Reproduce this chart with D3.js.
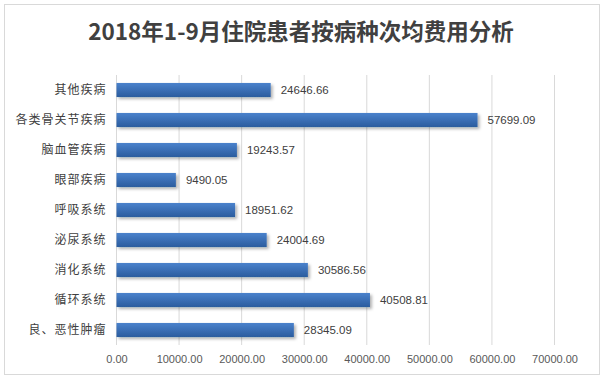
<!DOCTYPE html>
<html><head><meta charset="utf-8">
<script src="https://cdn.jsdelivr.net/npm/d3@7"></script>
<style>body{margin:0;background:#fff;}svg{display:block;}</style>
</head><body>
<svg id="c" width="605" height="378"></svg>
<script>
const title = "2018年1-9月住院患者按病种次均费用分析";
const categories = ["其他疾病","各类骨关节疾病","脑血管疾病","眼部疾病","呼吸系统","泌尿系统","消化系统","循环系统","良、恶性肿瘤"];
const values = [24646.66,57699.09,19243.57,9490.05,18951.62,24004.69,30586.56,40508.81,28345.09];
const xTicks = [0,10000,20000,30000,40000,50000,60000,70000];

const svg = d3.select("#c");
const defs = svg.append("defs");
const g1 = defs.append("linearGradient").attr("id","bar").attr("x1",0).attr("y1",0).attr("x2",0).attr("y2",1);
g1.append("stop").attr("offset","0%").attr("stop-color","#4a82cc");
g1.append("stop").attr("offset","100%").attr("stop-color","#2b5c9e");
const f = defs.append("filter").attr("id","sh").attr("x","-5%").attr("y","-30%").attr("width","115%").attr("height","190%");
f.append("feDropShadow").attr("dx",2).attr("dy",2).attr("stdDeviation",1.5).attr("flood-color","#000").attr("flood-opacity",0.3);

svg.append("rect").attr("x",4.5).attr("y",4.5).attr("width",595).attr("height",370)
  .attr("fill","#fff").attr("stroke","#d9d9d9");

svg.append("text").attr("x",301).attr("y",40).attr("text-anchor","middle")
  .attr("font-family","'Noto Sans CJK SC', sans-serif").attr("font-weight","bold")
  .attr("font-size",22.5).attr("fill","#404040").text(title);

const x = d3.scaleLinear().domain([0,70000]).range([116.5,554.5]);
const y = d3.scaleBand().domain(categories).range([75,345]).paddingInner(0.53).paddingOuter(0.265);

// gridlines
svg.append("g").selectAll("line").data(xTicks).join("line")
  .attr("x1",d=>x(d)).attr("x2",d=>x(d)).attr("y1",75).attr("y2",345)
  .attr("stroke","#d9d9d9").attr("stroke-width",1);

// x axis labels
const xa = svg.append("g").attr("transform","translate(0,345)")
  .call(d3.axisBottom(x).tickValues(xTicks).tickSize(0).tickPadding(10).tickFormat(d=>d3.format(".2f")(d)));
xa.select(".domain").remove();
xa.selectAll("text").attr("font-family","'Liberation Sans', sans-serif").attr("font-size",11).attr("fill","#595959");

// y axis labels
const ya = svg.append("g").attr("transform","translate(116.5,0)")
  .call(d3.axisLeft(y).tickSize(0).tickPadding(10));
ya.select(".domain").remove();
ya.selectAll("text").attr("font-family","'Noto Sans CJK SC', sans-serif").attr("font-size",12)
  .attr("letter-spacing","1px").attr("fill","#404040");

// bars
svg.append("g").selectAll("rect").data(values).join("rect")
  .attr("x",x(0)).attr("y",(d,i)=>y(categories[i]))
  .attr("width",d=>x(d)-x(0)).attr("height",y.bandwidth())
  .attr("fill","url(#bar)").attr("filter","url(#sh)");

// value labels
svg.append("g").selectAll("text").data(values).join("text")
  .attr("x",d=>x(d)+10).attr("y",(d,i)=>y(categories[i])+y.bandwidth()/2)
  .attr("dy","0.35em").attr("font-family","'Liberation Sans', sans-serif").attr("font-size",11.5)
  .attr("fill","#404040").text(d=>d3.format(".2f")(d));
</script>
</body></html>
